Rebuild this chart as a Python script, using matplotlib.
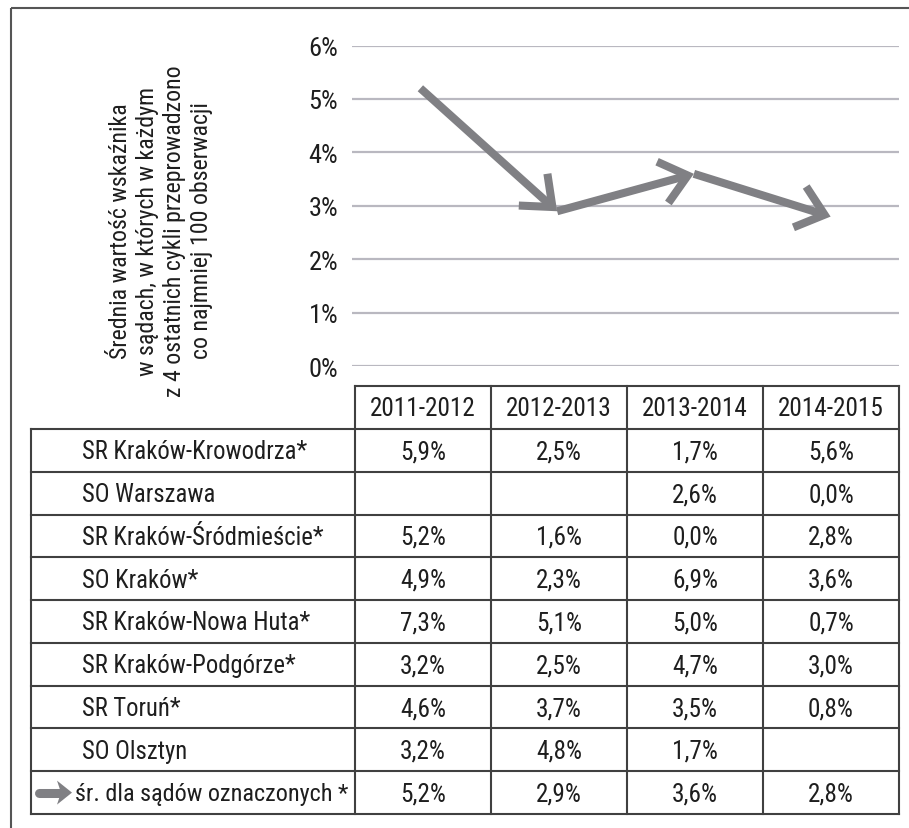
import matplotlib
matplotlib.use("Agg")
import matplotlib.pyplot as plt
from matplotlib import font_manager
from matplotlib.patches import FancyArrowPatch, Polygon, Rectangle

# pick a narrow sans for the DIN-like look, whichever is installed
_fonts = font_manager.fontManager.ttflist
_names = {f.name for f in _fonts}
_stretch = 'normal'
if 'Roboto Condensed' in _names:
    _family = 'Roboto Condensed'
elif 'Liberation Sans Narrow' in _names:
    _family = 'Liberation Sans Narrow'
elif 'DejaVu Sans Condensed' in _names:
    _family = 'DejaVu Sans Condensed'
elif any(f.name == 'DejaVu Sans' and f.stretch == 'condensed' for f in _fonts):
    _family, _stretch = 'DejaVu Sans', 'condensed'
else:
    _family = 'DejaVu Sans'
plt.rcParams['font.family'] = [_family, 'DejaVu Sans']
plt.rcParams['font.stretch'] = _stretch

# table data
years = ['2011-2012', '2012-2013', '2013-2014', '2014-2015']
courts = ['SR Kraków-Krowodrza*', 'SO Warszawa', 'SR Kraków-Śródmieście*',
          'SO Kraków*', 'SR Kraków-Nowa Huta*', 'SR Kraków-Podgórze*',
          'SR Toruń*', 'SO Olsztyn']
court_values = [
    [5.9, 2.5, 1.7, 5.6],
    [None, None, 2.6, 0.0],
    [5.2, 1.6, 0.0, 2.8],
    [4.9, 2.3, 6.9, 3.6],
    [7.3, 5.1, 5.0, 0.7],
    [3.2, 2.5, 4.7, 3.0],
    [4.6, 3.7, 3.5, 0.8],
    [3.2, 4.8, 1.7, None],
]
avg_label = 'śr. dla sądów oznaczonych *'
avg_values = [5.2, 2.9, 3.6, 2.8]
y_ticks = [0, 1, 2, 3, 4, 5, 6]
ylabel = ('Średnia wartość wskaźnika\n'
          'w sądach, w których w każdym\n'
          'z 4 ostatnich cykli przeprowadzono\n'
          'co najmniej 100 obserwacji')

W, H = 909, 829
FS = 18.2
TXT = '#1e1e1e'
LINE = '#404040'
ARROW = '#808084'
GRID = '#b9b8c0'


def pct(v):
    return '' if v is None else f'{v:.1f}%'.replace('.', ',')


fig = plt.figure(figsize=(W / 100, H / 100), dpi=100)

# background axes in pixel units for frame and table
bg = fig.add_axes([0, 0, 1, 1])
bg.set_xlim(0, W)
bg.set_ylim(H, 0)
bg.axis('off')
bg.add_patch(Rectangle((11, 9), 930, 860, fill=False, ec='#555555', lw=1.5))

# line chart
x0, x1 = 352, 899
y6, y0 = 46.5, 367.3
ax = fig.add_axes([x0 / W, (H - y0) / H, (x1 - x0) / W, (y0 - y6) / H])
ax.set_xlim(-0.5, 3.5)
ax.set_ylim(0, 6)
ax.set_yticks(y_ticks)
ax.set_yticklabels([f'{t}%' for t in y_ticks], fontsize=19, color=TXT)
ax.set_xticks([])
ax.tick_params(axis='y', length=0, pad=10)
for s in ax.spines.values():
    s.set_visible(False)
ax.grid(axis='y', color=GRID, lw=1.6)
ax.set_axisbelow(True)
ax.patch.set_alpha(0)

for i in range(len(avg_values) - 1):
    arr = FancyArrowPatch((i, avg_values[i]), (i + 1, avg_values[i + 1]),
                          arrowstyle='->,head_length=0.85,head_width=0.7',
                          mutation_scale=22, lw=5.8, color=ARROW,
                          shrinkA=0, shrinkB=0, joinstyle='miter',
                          capstyle='butt', clip_on=False, zorder=3)
    ax.add_patch(arr)

bg.text(161, 231, ylabel, rotation=90, ha='center', va='center',
        multialignment='center', fontsize=17.2, color=TXT, linespacing=1.24)

# table
col_x = [355, 491, 627, 763, 899]
lab_x = 31
head_top, body_top, body_bot = 387, 430, 815
nrows = len(courts) + 1
row_h = (body_bot - body_top) / nrows
lw_t = 1.5

bg.plot([col_x[0], col_x[-1]], [head_top, head_top], color=LINE, lw=lw_t)
for cx in col_x:
    bg.plot([cx, cx], [head_top, body_bot], color=LINE, lw=lw_t)
bg.plot([lab_x, lab_x], [body_top, body_bot], color=LINE, lw=lw_t)
for r in range(nrows + 1):
    yy = body_top + r * row_h
    bg.plot([lab_x, col_x[-1]], [yy, yy], color=LINE, lw=lw_t)

for j, yr in enumerate(years):
    bg.text((col_x[j] + col_x[j + 1]) / 2, (head_top + body_top) / 2 + 1, yr,
            ha='center', va='center', fontsize=FS, color=TXT)

rows = list(zip(courts, court_values)) + [(avg_label, avg_values)]
for r, (name, vals) in enumerate(rows):
    yc = body_top + (r + 0.5) * row_h + 1
    if name == avg_label:
        bg.text(75, yc, name, ha='left', va='center', fontsize=FS - 0.8,
                color=TXT)
    else:
        bg.text(82, yc, name, ha='left', va='center', fontsize=FS - 0.5,
                color=TXT)
    for j, v in enumerate(vals):
        bg.text((col_x[j] + col_x[j + 1]) / 2, yc, pct(v),
                ha='center', va='center', fontsize=FS, color=TXT)

# small arrow marker in front of the average row
yc = body_top + (nrows - 0.5) * row_h
bg.plot([39, 60], [yc, yc], color=ARROW, lw=6.5, solid_capstyle='round')
bg.add_patch(Polygon([(72, yc), (57, yc - 12), (61, yc), (57, yc + 12)],
                     closed=True, color=ARROW, lw=0))

fig.savefig('out.png', dpi=100)
